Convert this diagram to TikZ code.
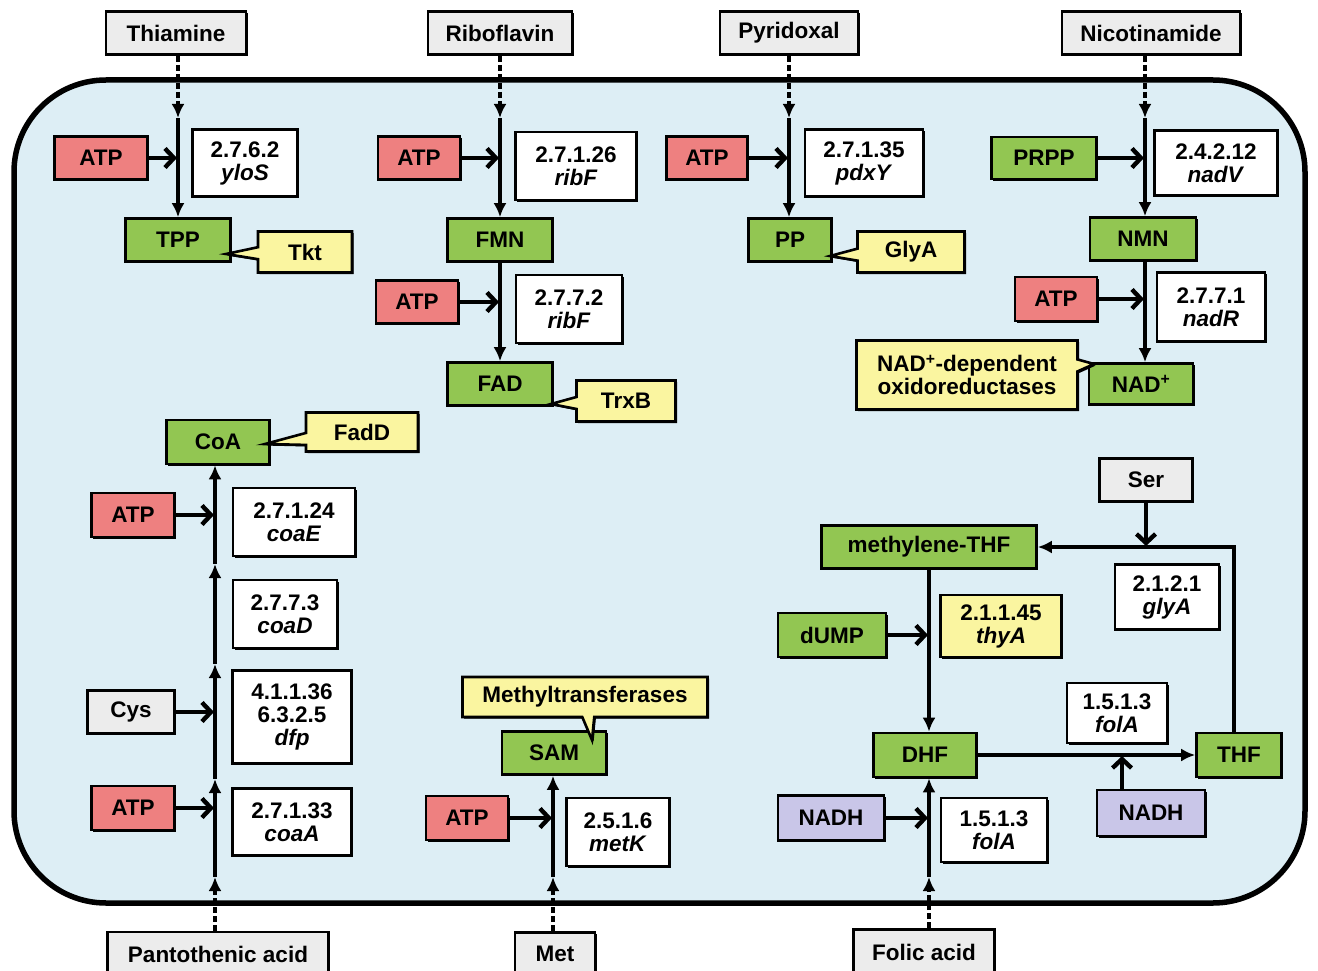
\documentclass[tikz,border=0pt]{standalone}
\usepackage{fontspec}
\setmainfont{Liberation Sans}
\usetikzlibrary{arrows.meta,shapes.callouts,shadows,calc}
\definecolor{atpc}{RGB}{238,128,128}
\definecolor{grnc}{RGB}{146,198,82}
\definecolor{yelc}{RGB}{250,245,160}
\definecolor{gryc}{RGB}{236,236,236}
\definecolor{purc}{RGB}{201,198,232}
\definecolor{cellc}{RGB}{221,238,245}
\begin{document}
\begin{tikzpicture}[x=1pt,y=-1pt,
 font=\fontsize{22.5}{23}\selectfont\bfseries,
 base/.style={draw=black,line width=2.6pt,inner sep=2pt,align=center,minimum height=43pt,
   drop shadow={shadow xshift=1.6pt,shadow yshift=-1.6pt,opacity=1,fill=black}},
 atp/.style={base,fill=atpc},
 metab/.style={base,fill=grnc},
 sub/.style={base,fill=gryc},
 nadh/.style={base,fill=purc},
 ec/.style={base,fill=white},
 ecy/.style={base,fill=yelc},
 callbox/.style={base,fill=yelc,shape=rectangle callout,callout pointer width=12pt},
 main/.style={line width=4.4pt,-{Latex[length=14pt,width=13pt]}},
 dashl/.style={line width=4.4pt,dash pattern=on 6pt off 3pt,-{Latex[length=14pt,width=13pt]}},
 side/.style={line width=4.4pt,-{Straight Barb[length=9pt,width=19pt]},shorten >=1pt},
]
\useasboundingbox (0,0) rectangle (1318,971);
% cell
\draw[line width=5.5pt,fill=cellc,rounded corners=92pt] (14,80) rectangle (1305,903);

% ---------- Thiamine
\node[sub,minimum width=140] (thiamine) at (176,33) {Thiamine};
\node[atp,minimum width=93] (atp1) at (101,158) {ATP};
\node[ec,minimum width=105,minimum height=67] (ec1) at (245,163) {2.7.6.2\\\textit{yloS}};
\node[metab,minimum width=105] (tpp) at (178,240) {TPP};
\coordinate (t1) at (178,118);
\coordinate (t1a) at (178,158);
\draw[dashl] (thiamine.south -| t1) -- (t1);
\draw[main] (t1) -- (tpp);
\draw[side] (atp1) -- (t1a);
\node[callbox,minimum width=94,minimum height=41,callout absolute pointer={(226,254)}] (tkt) at (305,252) {Tkt};

% ---------- Riboflavin
\node[sub,minimum width=144] (riboflavin) at (500,33) {Riboflavin};
\node[atp,minimum width=82] (atp2) at (419,158) {ATP};
\node[ec,minimum width=121,minimum height=68] (ec2) at (576,166) {2.7.1.26\\\textit{ribF}};
\node[metab,minimum width=105] (fmn) at (500,240) {FMN};
\node[atp,minimum width=82] (atp3) at (417,302) {ATP};
\node[ec,minimum width=106,minimum height=68] (ec3) at (569,309) {2.7.7.2\\\textit{ribF}};
\node[metab,minimum width=105] (fad) at (500,384) {FAD};
\coordinate (r1) at (500,118);
\coordinate (r1a) at (500,158);
\coordinate (r2a) at (500,302);
\draw[dashl] (riboflavin) -- (r1);
\draw[main] (r1) -- (fmn);
\draw[main] (fmn) -- (fad);
\draw[side] (atp2) -- (r1a);
\draw[side] (atp3) -- (r2a);
\node[callbox,minimum width=99,minimum height=41,callout absolute pointer={(551,404)}] (trxb) at (626,401) {TrxB};

% ---------- Pyridoxal
\node[sub,minimum width=138] (pyridoxal) at (789,33) {Pyridoxal};
\node[atp,minimum width=81] (atp4) at (707,158) {ATP};
\node[ec,minimum width=118,minimum height=67] (ec4) at (864,163) {2.7.1.35\\\textit{pdxY}};
\node[metab,minimum width=83] (pp) at (790,240) {PP};
\coordinate (p1) at (789,118);
\coordinate (p1a) at (789,158);
\draw[dashl] (pyridoxal) -- (p1);
\draw[main] (p1) -- (pp.north -| p1);
\draw[side] (atp4) -- (p1a);
\node[callbox,minimum width=107,minimum height=41,callout absolute pointer={(830,256)}] (glya) at (911,252) {GlyA};

% ---------- Nicotinamide
\node[sub,minimum width=178] (nicotinamide) at (1151,33) {Nicotinamide};
\node[metab,minimum width=105,minimum height=42] (prpp) at (1044,158) {PRPP};
\node[ec,minimum width=123,minimum height=65] (ec5) at (1216,163) {2.4.2.12\\\textit{nadV}};
\node[metab,minimum width=106] (nmn) at (1143,239) {NMN};
\node[atp,minimum width=82,minimum height=44] (atp5) at (1056,299) {ATP};
\node[ec,minimum width=108,minimum height=69] (ec6) at (1211,307) {2.7.7.1\\\textit{nadR}};
\node[metab,minimum width=104,minimum height=41] (nadp) at (1141,384) {NAD\textsuperscript{+}};
\coordinate (n1) at (1145,118);
\coordinate (n1a) at (1145,158);
\coordinate (n2a) at (1145,299);
\draw[dashl] (nicotinamide.south -| n1) -- (n1);
\draw[main] (n1) -- (nmn.north -| n1);
\draw[main] (nmn.south -| n1) -- (nadp.north -| n1);
\draw[side] (prpp) -- (n1a);
\draw[side] (atp5) -- (n2a);
\node[callbox,minimum width=221,minimum height=69,callout absolute pointer={(1094,364)}] (nadcall) at (967,375) {NAD\textsuperscript{+}-dependent\\oxidoreductases};

% ---------- CoA
\node[metab,minimum width=103,minimum height=44] (coa) at (218,442) {CoA};
\node[atp,minimum width=83,minimum height=44] (atp6) at (133,515) {ATP};
\node[ec,minimum width=122,minimum height=68] (ec7) at (294,522) {2.7.1.24\\\textit{coaE}};
\node[ec,minimum width=104,minimum height=68] (ec8) at (285,614) {2.7.7.3\\\textit{coaD}};
\node[sub,minimum width=87] (cys) at (131,712) {Cys};
\node[ec,minimum width=119,minimum height=93] (ec9) at (292,717) {4.1.1.36\\6.3.2.5\\\textit{dfp}};
\node[atp,minimum width=83,minimum height=44] (atp7) at (133,808) {ATP};
\node[ec,minimum width=119,minimum height=67] (ec10) at (292,822) {2.7.1.33\\\textit{coaA}};
\node[sub,minimum width=221,minimum height=44] (pant) at (218,954) {Pantothenic acid};
\coordinate (c1) at (215,877);
\coordinate (c2) at (215,779);
\coordinate (c3) at (215,664);
\coordinate (c4) at (215,564);
\coordinate (c1a) at (215,808);
\coordinate (c2a) at (215,712);
\coordinate (c4a) at (215,515);
\draw[dashl] (pant.north -| c1) -- (c1);
\draw[main] (c1) -- (c2);
\draw[main] (c2) -- (c3);
\draw[main] (c3) -- (c4);
\draw[main] (c4) -- (coa.south -| c4);
\draw[side] (atp7) -- (c1a);
\draw[side] (cys) -- (c2a);
\draw[side] (atp6) -- (c4a);
\node[callbox,minimum width=112,minimum height=39,callout absolute pointer={(265,444)}] (fadd) at (362,432) {FadD};

% ---------- SAM
\node[metab,minimum width=104] (sam) at (554,753) {SAM};
\node[atp,minimum width=82,minimum height=44] (atp8) at (467,818) {ATP};
\node[ec,minimum width=103,minimum height=68] (ec11) at (618,832) {2.5.1.6\\\textit{metK}};
\node[sub,minimum width=80] (met) at (555,954) {Met};
\coordinate (s1) at (553,877);
\coordinate (s1a) at (553,818);
\draw[dashl] (met.north -| s1) -- (s1);
\draw[main] (s1) -- (sam.south -| s1);
\draw[side] (atp8) -- (s1a);
\node[callbox,minimum width=245,minimum height=40,callout absolute pointer={(592,740)}] (mtf) at (585,697) {Methyltransferases};

% ---------- Folate
\node[sub,minimum width=93] (ser) at (1146,480) {Ser};
\node[metab,minimum width=215] (mthf) at (929,547) {methylene-THF};
\node[ec,minimum width=104,minimum height=65] (ec12) at (1167,597) {2.1.2.1\\\textit{glyA}};
\node[metab,minimum width=108,minimum height=44] (dump) at (832,635) {dUMP};
\node[ecy,minimum width=121,minimum height=62] (ec13) at (1001,626) {2.1.1.45\\\textit{thyA}};
\node[metab,minimum width=103,minimum height=44] (dhf) at (925,755) {DHF};
\node[metab,minimum width=85,minimum height=44] (thf) at (1239,755) {THF};
\node[ec,minimum width=100,minimum height=60] (ec14) at (1117,713) {1.5.1.3\\\textit{folA}};
\node[nadh,minimum width=108,minimum height=46] (nadh1) at (1151,813) {NADH};
\node[nadh,minimum width=106,minimum height=45] (nadh2) at (831,818) {NADH};
\node[ec,minimum width=106,minimum height=64] (ec15) at (994,830) {1.5.1.3\\\textit{folA}};
\node[sub,minimum width=141,minimum height=45] (folic) at (924,952) {Folic acid};
\coordinate (f1) at (929,877);
\coordinate (f1a) at (929,818);
\coordinate (f2a) at (929,635);
\coordinate (tc) at (1234,547);
\coordinate (serj) at (1146,547);
\coordinate (nadhj) at (1122,755);
\draw[dashl] (folic.north -| f1) -- (f1);
\draw[main] (f1) -- (dhf.south -| f1);
\draw[main] (mthf.south -| f1) -- (dhf.north -| f1);
\draw[main] (dhf) -- (thf);
\draw[main] (thf.north -| tc) -- (tc) -- (mthf.east);
\draw[side] (ser) -- (serj);
\draw[side] (nadh1.north -| nadhj) -- (nadhj);
\draw[side] (dump) -- (f2a);
\draw[side] (nadh2) -- (f1a);
\end{tikzpicture}
\end{document}
